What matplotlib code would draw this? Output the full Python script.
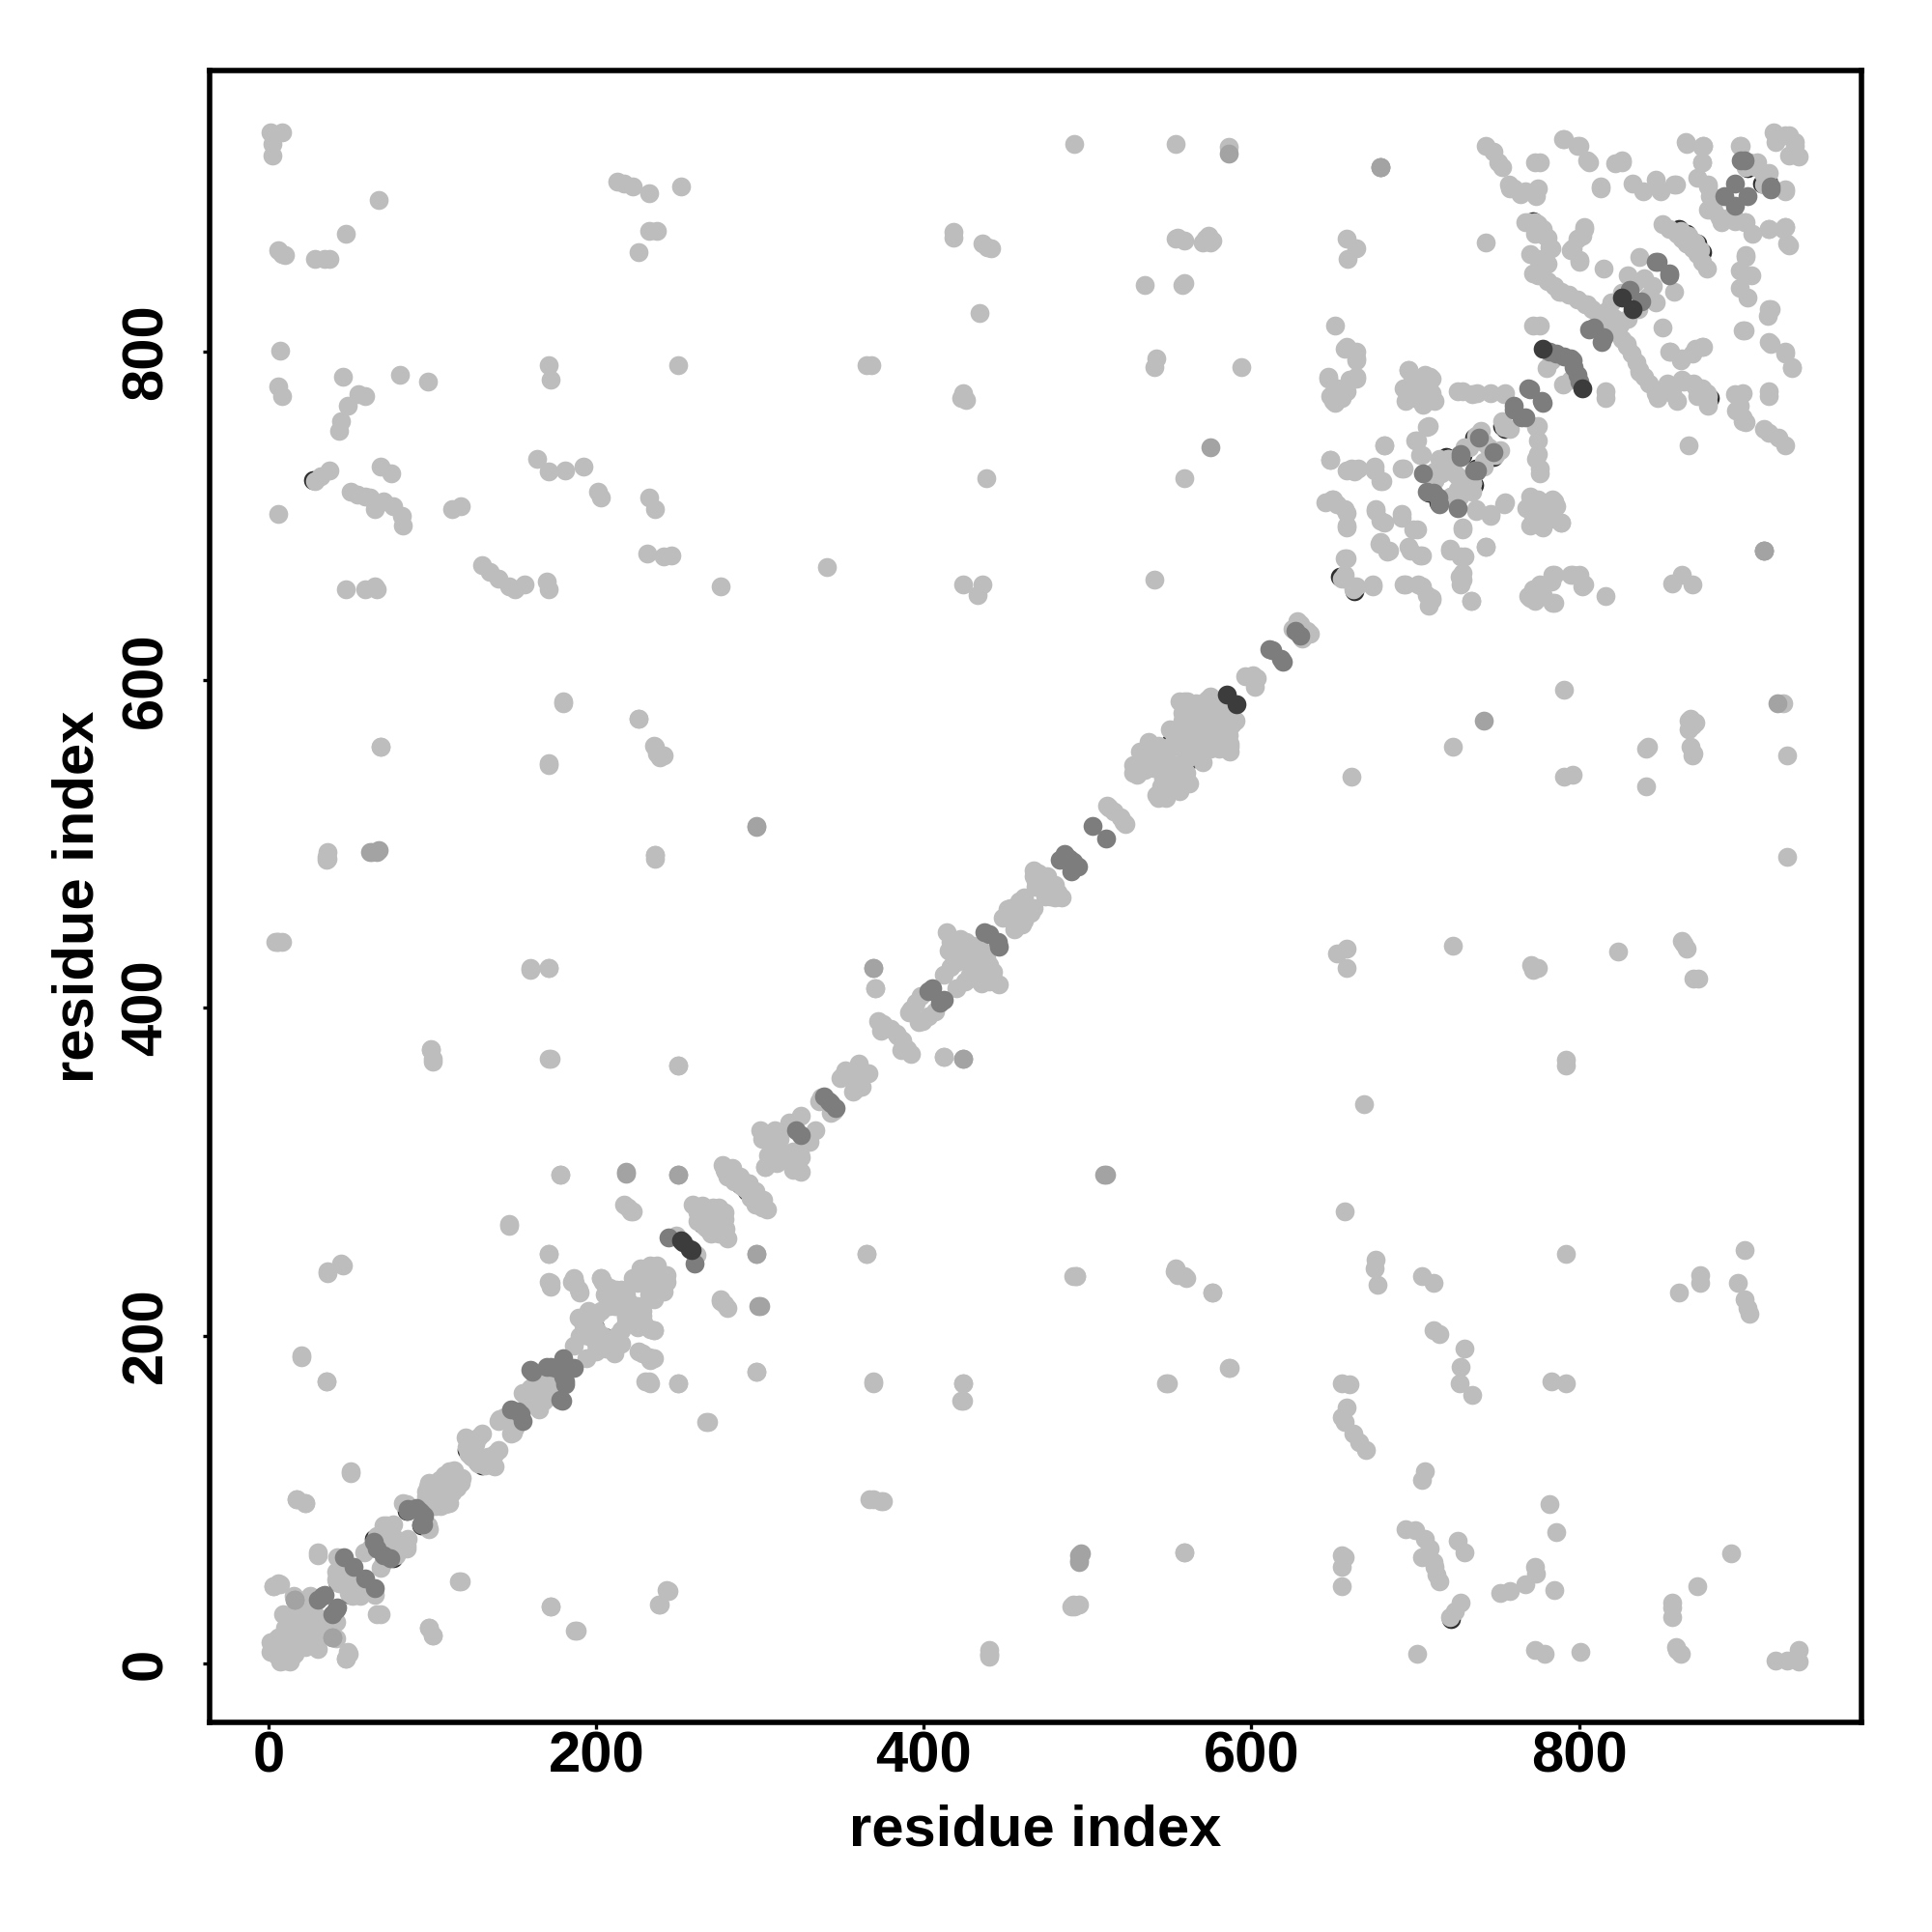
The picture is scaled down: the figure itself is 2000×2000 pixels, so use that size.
import numpy as np
import matplotlib
matplotlib.use("Agg")
import matplotlib.pyplot as plt

plt.rcParams['font.family'] = ['Liberation Sans', 'DejaVu Sans']
plt.rcParams['font.weight'] = 'bold'

# contact map is symmetric, only the i < j half is listed here
# far contacts, light grey
far_contacts = [
    (1,934),(8,934),(2,927),(2,920),(6,862),(8,860),(10,859),(28,857),(34,857),(37,857),(47,872),(67,893),
    (7,801),(6,779),(8,773),(45,785),(48,767),(44,758),(43,752),(55,774),(59,773),(80,786),(97,782),(6,701),
    (32,724),(37,728),(68,730),(75,726),(50,715),(54,713),(59,712),(62,711),(65,704),(70,709),(76,706),(81,700),(82,694),
    (47,655),(59,655),(65,657),(66,655),(112,704),(117,706),(130,670),(135,666),(140,662),(147,657),(150,655),(156,658),
    (170,660),(171,655),(164,735),(171,727),(181,728),(192,730),(201,715),(203,711),(171,792),(172,783),
    (213,904),(217,903),(222,901),(232,897),(252,901),(232,874),(237,874),(226,861),(250,792),(232,711),(236,704),
    (231,677),(241,675),(246,676),(276,657),(341,669),(418,873),(418,870),(436,866),(439,864),(441,863),(434,824),
    (424,775),(426,771),(423,772),(438,723),(424,658),(436,658),(433,652),(492,927),(554,927),(586,925),
    (535,841),(559,842),(555,870),(559,868),(570,867),(574,871),(576,868),(542,796),(541,791),(594,791),(559,723),(541,661),
    (368,792),(365,792),(180,587),(226,576),(235,560),(237,555),(241,554),(171,549),(68,559),(36,491),(35,490),(236,493),
    (5,440),(8,440),(160,424),(171,424),(171,369),(99,375),(100,369),(250,365),(412,370),(370,412),(178,298),
    (147,267),(219,278),(222,276),(171,250),(365,250),(36,239),(45,243),(171,233),(185,233),(189,228),(276,221),(280,217),
    (226,190),(232,187),(235,186),(235,203),(20,188),(35,172),(232,172),(230,172),(250,171),(298,178),(369,172),(424,171),(423,160),
    (548,171),(586,180),(268,147),(491,236),(493,236),(553,239),(559,236),(576,226),(50,116),(17,100),(22,98),(30,66),
    (367,100),(374,99),(117,50),(244,44),(238,36),(172,35),(187,20),(98,22),(100,17),(68,30),(49,6),(47,3),(440,6),(440,4),
    (495,63),(559,68),(492,35),(495,36),(743,867),(558,841),(554,869),(572,869),(575,867),(658,869),(664,863),(659,857),
]

# the block in the upper right corner
block_contacts = [
    (743,926),(748,922),(751,916),(753,913),(773,916),(776,916),(791,930),(799,926),(806,916),(826,916),(822,915),
    (757,902),(760,900),(767,898),(775,900),(774,895),(764,896),(758,900),(813,900),(833,903),(839,898),(847,905),(850,898),(858,902),
    (865,928),(875,925),(875,916),(872,906),(879,902),(884,894),(879,887),(886,882),(895,880),(901,879),(899,926),(898,926),
    (909,916),(908,913),(919,934),(928,932),(926,932),(920,928),(916,875),(926,876),(866,927),(876,926),
    (769,879),(775,878),(781,870),(783,863),(775,857),(772,848),(781,843),(789,837),(799,832),(808,826),(816,818),
    (773,872),(778,875),(770,860),(785,840),(794,835),(804,829),(803,876),(799,869),(795,862),(800,855),(815,851),
    (837,858),(830,847),(834,842),(840,845),(817,825),(822,820),(826,836),(820,830),(812,818),
    (851,878),(855,875),(860,872),(863,869),(866,866),(859,902),(826,917),(813,901),(805,917),(800,926),(790,930),
    (781,854),(782,864),(779,871),(772,878),(767,879),(800,856),(796,863),(802,871),(803,875),(805,829),(788,837),(775,847),
    (772,816),(776,816),(783,795),(780,790),
    (696,789),(693,778),(710,784),(707,775),(705,768),(700,772),(729,776),(738,775),(754,774),(755,775),(746,775),(735,774),(726,776),
    (694,770),(697,775),(700,782),(705,775),(710,775),(712,770),(698,785),(706,786),(650,770),(655,772),(652,778),(660,783),
    (753,758),(707,754),(700,746),(703,737),(693,729),(681,743),(648,734),(661,729),(665,729),(675,730),(679,721),
    (650,710),(657,704),(658,694),(645,708),(676,704),(679,697),(692,701),(699,692),(679,684),(683,678),(696,681),(703,676),
    (657,674),(657,664),(662,657),(674,658),(693,658),(702,658),(710,649),(707,652),(734,648),(721,680),(728,675),(727,663),(728,658),(743,681),
    (737,704),(746,701),(755,708),(729,692),(727,712),(708,772),(703,778),(709,785),(696,789),
    (652,772),(647,785),(658,776),(664,785),(664,796),(658,803),(647,784),(664,784),(657,778),(648,773),(651,769),(657,802),(664,800),(664,795),(651,816),
    (716,726),(724,726),(737,749),(742,745),(720,735),(730,742),(712,722),(722,712),(735,725),(740,752),(733,742),(715,735),
]

# near the diagonal
diagonal_contacts = [
    (1,13),(2,8),(2,10),(4,6),(4,14),(6,16),(8,12),(10,22),(9,30),(12,28),(15,20),(15,41),(18,36),(20,30),(22,24),(25,41),(27,33),(28,38),
    (12,18),(16,26),(22,34),(24,30),(26,37),(1,7),(2,13),(7,15),(15,29),(27,36),(3,47),(7,48),
    (42,65),(41,51),(45,52),(44,64),(48,58),(46,50),(44,60),(50,55),(41,56),
    (58,68),(62,70),(66,78),(67,78),(70,84),(72,84),(75,80),(68,74),(76,85),(84,97),(82,98),
    (96,105),(97,108),(96,102),(98,110),(100,106),(104,112),(107,115),(110,117),(113,118),(112,113),(104,108),
    (120,138),(121,132),(122,128),(121,137),(126,134),(128,138),(130,140),(125,130),(124,136),
    (140,148),(141,149),(144,150),(155,165),(160,165),(165,176),(170,175),(172,176),(158,162),(160,168),(163,175),(168,172),
    (186,194),(190,200),(189,211),(192,206),(198,207),(200,212),(204,233),(203,215),(205,225),(208,218),(210,225),(212,222),(215,228),
    (218,225),(219,221),(203,235),(208,229),(212,228),(222,235),(225,232),(228,235),(227,241),(231,238),(233,243),(237,243),(236,240),(195,200),(195,215),(212,218),
    (249,261),(259,280),(262,275),(265,279),(271,278),(275,278),(266,270),(263,270),(270,262),
    (277,304),(279,300),(283,302),(288,297),(280,297),(293,293),(278,301),(284,294),
    (300,325),(301,320),(305,322),(309,325),(312,320),(305,310),(310,315),(325,334),(318,330),(303,303),(305,319),(311,324),
    (337,345),(336,343),(349,357),(352,362),(355,360),(360,366),(350,358),(372,392),(375,390),(380,387),(374,386),(383,384),
    (392,399),(391,397),(398,407),(395,403),(414,446),(416,440),(422,442),(426,440),(430,438),(412,420),(416,425),(418,432),(420,428),(415,435),(434,436),
    (448,455),(451,460),(453,461),(458,465),(461,467),(455,458),(467,484),(468,474),(468,477),(467,480),(470,482),(475,480),(473,479),
    (513,522),(512,523),(516,520),(537,562),(535,556),(530,542),(532,548),(528,543),(543,560),(537,550),(546,555),(536,553),(540,546),
    (528,548),(532,556),(540,560),(545,552),(550,545),(535,545),(555,560),(560,565),(565,578),(560,582),(550,570),(575,590),(580,585),
    (561,587),(556,587),(558,580),(566,586),(573,588),(571,584),(555,566),(566,571),(558,575),(570,578),(562,570),(572,573),(572,587),(559,587),
    (596,602),(601,603),(625,631),(628,636),(630,634),
]

# light points sitting just off the dark ones, this gives the thin crescents
cover_contacts = [
    (5,11),(6,7),(13,24),(27,32),(43,49),(49,53),(65,75),(73,77),(75,76),(122,129),(124,126),(164,171),(167,169),(163,165),
    (197,209),(200,204),(214,220),(211,218),(266,267),(269,271),(289,291),(421,431),(428,428),(431,424),
    (542,551),(549,557),(549,548),(564,581),(569,576),(576,581),(579,585),(655,662),(28,721),(737,747),(754,754),
    (862,874),(867,871),(906,914),(913,902),(773,879),(720,735),(552,561),(561,574),
]

# a bit darker than the light ones
grey_contacts = [
    (586,921),(679,913),(575,742),(298,511),(62,495),(67,496),(424,369),(369,424),(218,299),(250,298),(510,298),(298,250),(300,218),(495,66),
    (913,679),(679,913),(39,16),(16,39),
]

# mid grey points
mid_contacts = [
    (901,917),(899,917),(895,903),(889,895),(847,855),(848,855),(831,838),(806,814),(809,815),(782,800),(786,799),(791,797),(795,796),
    (769,778),(777,770),(760,765),(767,760),(748,739),(705,726),(33,41),(30,39),(34,42),(46,65),(52,59),(64,74),(66,70),
    (90,95),(92,93),(152,154),(148,155),(160,179),(170,181),(161,178),(172,181),(180,186),(175,180),(244,260),
    (322,325),(339,346),(342,343),(405,412),(403,410),(440,445),(437,446),(486,494),(483,490),(487,492),(489,491),
    (503,511),(611,619),(613,618),(627,630),
    (728,736),(738,728),(711,714),(715,707),(85,93),(85,94),
]

# dark ones hidden below the light points, they only show as crescents
under_contacts = [
    (4,12),(5,8),(12,25),(26,33),(42,50),(48,54),(64,76),(72,78),(74,76),(121,130),(123,127),(163,172),(166,170),(162,166),(196,210),(199,205),(213,221),(210,219),
    (265,268),(268,272),(288,292),(420,432),(427,429),(430,425),(541,552),(548,558),(548,549),(563,582),(568,577),(575,582),(578,586),
    (654,663),(27,722),(727,737),(737,729),(736,748),(710,715),(714,708),(753,755),(861,875),(866,872),(905,915),(912,903),(772,880),(719,736),(84,93),
    (551,562),(560,575),
]

# dark points lying on top
dark_contacts = [
    (826,833),(778,802),(252,258),(253,257),(585,591),
]

# greys
under_shade = '#2e2e2e'
light_shade = '#bdbdbd'
grey_shade = '#a3a3a3'
mid_shade = '#7d7d7d'
dark_shade = '#3c3c3c'

x_ticks = [0, 200, 400, 600, 800]
y_ticks = [0, 200, 400, 600, 800]


def draw_contacts(ax, contacts, shade):
    pairs = np.array(contacts)
    # both halves of the map
    xs = np.concatenate([pairs[:, 0], pairs[:, 1]])
    ys = np.concatenate([pairs[:, 1], pairs[:, 0]])
    ax.scatter(xs, ys, s=200, c=shade, linewidths=0)


fig = plt.figure(figsize=(20, 20), dpi=100)
ax = fig.add_axes([216.5 / 2000, 217 / 2000, (1927 - 216.5) / 2000, (1927 - 217) / 2000])

draw_contacts(ax, under_contacts, under_shade)
draw_contacts(ax, far_contacts + block_contacts + diagonal_contacts + cover_contacts, light_shade)
draw_contacts(ax, grey_contacts, grey_shade)
draw_contacts(ax, mid_contacts, mid_shade)
draw_contacts(ax, dark_contacts, dark_shade)

ax.set_xlim(-36.4, 972.5)
ax.set_ylim(-36, 971.7)

for side in ax.spines.values():
    side.set_linewidth(4)

ax.set_xticks(x_ticks)
ax.set_yticks(y_ticks)
ax.tick_params(axis='x', direction='out', length=4.7, width=2.4, labelsize=43, pad=1.5)
ax.tick_params(axis='y', direction='out', length=4.7, width=2.4, labelsize=43, pad=22)
for lab in ax.get_yticklabels():
    lab.set_rotation(90)
    lab.set_va('center')

fig.text(1072 / 2000, 1 - 1895 / 2000, 'residue index', fontsize=43, fontweight='bold', ha='center', va='center')
fig.text(81 / 2000, 1 - 928 / 2000, 'residue index', fontsize=43, fontweight='bold', ha='center', va='center', rotation=90)

fig.savefig('out.png', dpi=100, facecolor='white')
